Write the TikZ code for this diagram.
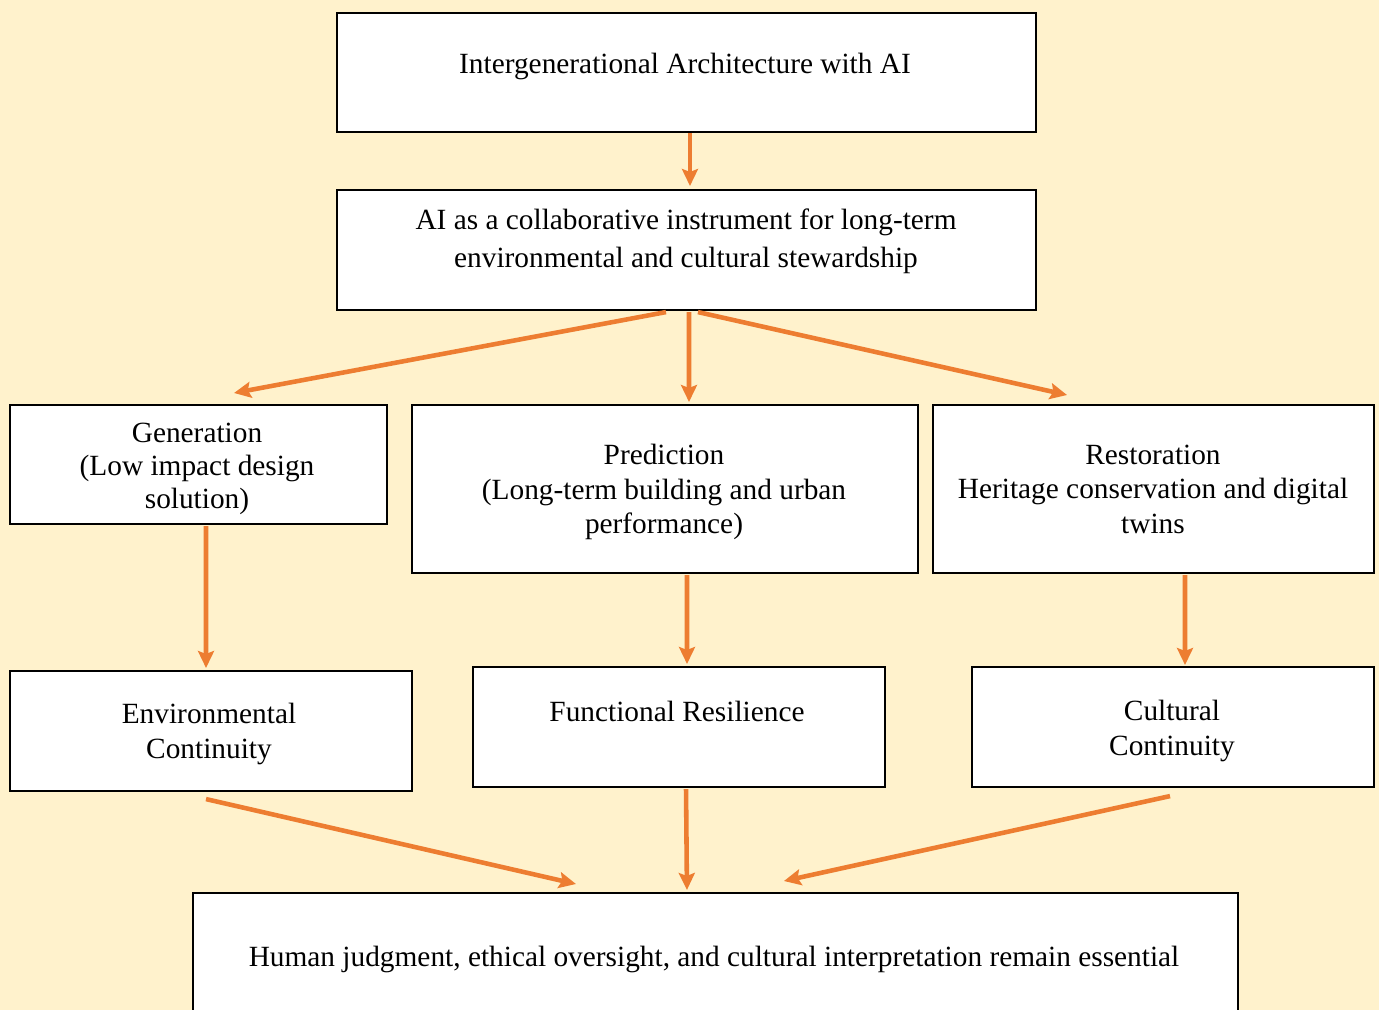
\documentclass[tikz,border=0pt]{standalone}
\usepackage{fontspec}
\setmainfont{Liberation Serif}
\usetikzlibrary{arrows.meta,calc}
\definecolor{bgcol}{HTML}{FFF2CC}
\definecolor{arrcol}{HTML}{ED7D31}
\begin{document}
\begin{tikzpicture}[x=0.02cm,y=-0.02cm,
  box/.style={draw=black,line width=1.2pt,fill=white,inner sep=0pt,anchor=north west},
  txt/.style={align=center,font=\fontsize{16.7}{19.6}\selectfont,inner sep=0pt},
  con/.style={draw=arrcol,line width=2.6pt,-{Stealth[length=0.34cm,width=0.32cm,inset=0.06cm]}}]
\useasboundingbox (0,0) rectangle (1379,1010);
\fill[bgcol] (0,0) rectangle (1379,1010);
\clip (0,0) rectangle (1379,1010);
% boxes
\node[box,minimum width=13.98cm,minimum height=2.38cm] (b1) at (336,12) {};
\node[box,minimum width=13.98cm,minimum height=2.40cm] (b2) at (336,189) {};
\node[box,minimum width=7.54cm,minimum height=2.38cm] (b3) at (9,404) {};
\node[box,minimum width=10.12cm,minimum height=3.36cm] (b4) at (411,404) {};
\node[box,minimum width=8.82cm,minimum height=3.36cm] (b5) at (932,404) {};
\node[box,minimum width=8.04cm,minimum height=2.40cm] (b6) at (9,670) {};
\node[box,minimum width=8.24cm,minimum height=2.40cm] (b7) at (472,666) {};
\node[box,minimum width=8.04cm,minimum height=2.40cm] (b8) at (971,666) {};
\node[box,minimum width=20.90cm,minimum height=2.80cm] (b9) at (192,892) {};
% texts
\node[txt] (t1) at (685,66) {Intergenerational Architecture with AI};
\node[txt,font=\fontsize{16.7}{21.5}\selectfont] (t2) at (686,241) {AI as a collaborative instrument for long-term\\environmental and cultural stewardship};
\node[txt,font=\fontsize{16.7}{18.7}\selectfont] (t3) at (197,469) {Generation\\(Low impact design\\solution)};
\node[txt] (t4) at (664,492) {Prediction\\(Long-term building and urban\\performance)};
\node[txt] (t5) at (1153,489) {Restoration\\Heritage conservation and digital\\twins};
\node[txt] (t6) at (209,734) {Environmental\\Continuity};
\node[txt] (t7) at (677,711) {Functional Resilience};
\node[txt] (t8) at (1172,731) {Cultural\\Continuity};
\node[txt] (t9) at (714,959) {Human judgment, ethical oversight, and cultural interpretation remain essential};
% connectors
\draw[con] ($(b1.south)+(3.5,0)$) -- ($(b2.north)+(3.5,-3)$);
\draw[con] ($(b2.south)+(-20.5,1)$) -- ($(b3.north)+(35.5,-11)$);
\draw[con] ($(b2.south)+(2.5,1)$) -- ($(b4.north)+(24,-2)$);
\draw[con] ($(b2.south)+(11.5,1)$) -- ($(b5.north)+(-86.5,-9)$);
\draw[con] ($(b3.south)+(7.5,1)$) -- ($(b6.north)+(-5,-2)$);
\draw[con] ($(b4.south)+(22,1)$) -- ($(b7.north)+(8,-2)$);
\draw[con] ($(b5.south)+(31.5,1)$) -- ($(b8.north)+(12,-1)$);
\draw[con] ($(b6.south)+(-5,7)$) -- ($(b9.north)+(-139.5,-8)$);
\draw[con] ($(b7.south)+(7,1)$) -- ($(b9.north)+(-28.5,-2)$);
\draw[con] ($(b8.south)+(-3,8)$) -- ($(b9.north)+(68.5,-11)$);
\end{tikzpicture}
\end{document}
